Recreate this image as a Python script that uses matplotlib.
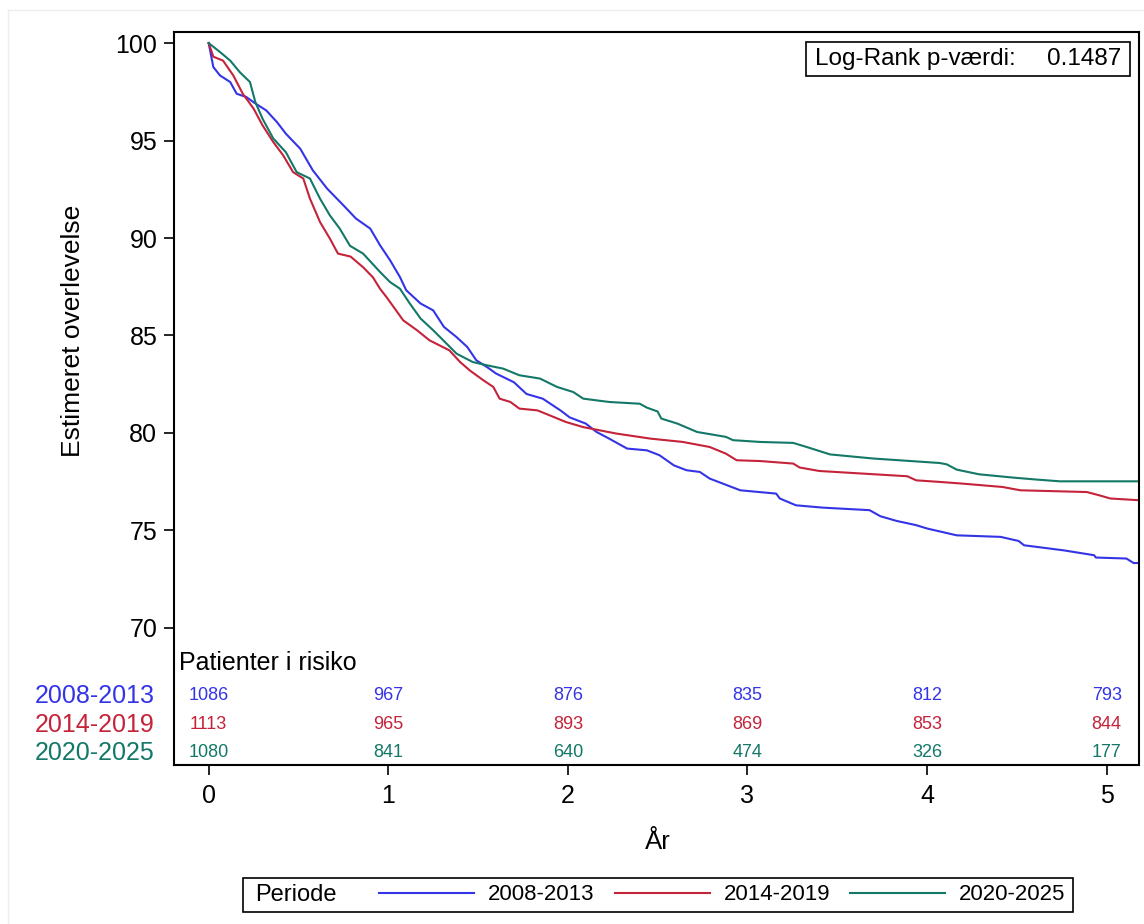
import matplotlib.pyplot as plt
import matplotlib.transforms as mtransforms
from matplotlib.lines import Line2D
from matplotlib.patches import Rectangle

plt.rcParams['font.family'] = ['Liberation Sans', 'DejaVu Sans']

periods = ['2008-2013', '2014-2019', '2020-2025']
colors = ['#3434e6', '#c4233a', '#137868']

# Kaplan-Meier kurver (aflæst)
t_0813 = [0, 0.026, 0.063, 0.12, 0.156, 0.21, 0.26, 0.32, 0.38, 0.43, 0.51, 0.58,
          0.66, 0.75, 0.82, 0.90, 0.954, 1.01, 1.065, 1.10, 1.18, 1.25, 1.31, 1.38,
          1.44, 1.49, 1.55, 1.60, 1.70, 1.77, 1.86, 1.96, 2.01, 2.10, 2.16, 2.23,
          2.33, 2.44, 2.51, 2.59, 2.66, 2.735, 2.79, 2.96, 3.16, 3.18, 3.27, 3.42,
          3.68, 3.74, 3.83, 3.94, 4.0, 4.165, 4.41, 4.51, 4.54, 4.76, 4.93, 4.94,
          5.11, 5.15, 5.18]
s_0813 = [100, 98.77, 98.34, 98.0, 97.4, 97.23, 96.9, 96.55, 95.95, 95.35, 94.58, 93.47,
          92.53, 91.68, 91.0, 90.48, 89.63, 88.86, 88.0, 87.32, 86.64, 86.29, 85.44, 84.92,
          84.41, 83.73, 83.38, 83.05, 82.6, 82.0, 81.76, 81.15, 80.8, 80.48, 80.05, 79.71,
          79.2, 79.11, 78.86, 78.34, 78.09, 78.0, 77.66, 77.06, 76.89, 76.64, 76.29, 76.17,
          76.04, 75.73, 75.49, 75.27, 75.1, 74.75, 74.67, 74.46, 74.24, 73.98, 73.73, 73.61,
          73.56, 73.33, 73.33]

t_1419 = [0, 0.026, 0.08, 0.137, 0.19, 0.25, 0.30, 0.36, 0.415, 0.47, 0.527, 0.564,
          0.62, 0.675, 0.72, 0.79, 0.86, 0.915, 0.954, 0.99, 1.03, 1.083, 1.16, 1.23,
          1.34, 1.40, 1.455, 1.53, 1.585, 1.62, 1.68, 1.73, 1.83, 1.90, 1.99, 2.086,
          2.27, 2.46, 2.64, 2.79, 2.88, 2.94, 3.07, 3.255, 3.29, 3.40, 3.89, 3.94,
          4.07, 4.2, 4.42, 4.52, 4.89, 4.96, 5.02, 5.18]
s_1419 = [100, 99.3, 99.1, 98.34, 97.4, 96.64, 95.78, 94.92, 94.24, 93.38, 93.05, 92.02,
          90.82, 89.97, 89.2, 89.05, 88.5, 87.98, 87.4, 86.97, 86.46, 85.78, 85.27, 84.75,
          84.24, 83.64, 83.2, 82.7, 82.36, 81.76, 81.59, 81.25, 81.16, 80.9, 80.56, 80.3,
          79.97, 79.71, 79.54, 79.28, 78.94, 78.6, 78.56, 78.43, 78.23, 78.05, 77.78, 77.57,
          77.49, 77.4, 77.23, 77.06, 76.97, 76.8, 76.64, 76.55]

t_2025 = [0, 0.063, 0.12, 0.174, 0.23, 0.26, 0.30, 0.36, 0.43, 0.49, 0.564, 0.62,
          0.675, 0.73, 0.787, 0.86, 0.954, 1.01, 1.065, 1.12, 1.18, 1.25, 1.325, 1.38,
          1.47, 1.55, 1.64, 1.73, 1.845, 1.94, 2.03, 2.086, 2.23, 2.40, 2.44, 2.50,
          2.52, 2.61, 2.72, 2.88, 2.92, 3.07, 3.255, 3.33, 3.46, 3.70, 4.07, 4.11,
          4.165, 4.29, 4.48, 4.61, 4.74, 5.18]
s_2025 = [100, 99.54, 99.1, 98.5, 98.0, 96.97, 96.12, 95.1, 94.4, 93.38, 93.05, 92.02,
          91.16, 90.48, 89.6, 89.2, 88.26, 87.74, 87.4, 86.64, 85.87, 85.27, 84.58, 84.07,
          83.64, 83.47, 83.3, 82.96, 82.79, 82.36, 82.1, 81.76, 81.59, 81.5, 81.3, 81.1,
          80.74, 80.48, 80.05, 79.8, 79.63, 79.54, 79.49, 79.28, 78.9, 78.69, 78.46, 78.39,
          78.12, 77.88, 77.71, 77.61, 77.52, 77.52]

# patienter i risiko
risk_years = [0, 1, 2, 3, 4, 5]
risk_0813 = [1086, 967, 876, 835, 812, 793]
risk_1419 = [1113, 965, 893, 869, 853, 844]
risk_2025 = [1080, 841, 640, 474, 326, 177]

fig = plt.figure(figsize=(11.44, 9.24), dpi=100)

# svag kant rundt om billedet
fig.add_artist(Line2D([0.007, 1], [0.989, 0.989], transform=fig.transFigure, color='#eeeeee', lw=1))
fig.add_artist(Line2D([0.007, 0.007], [0, 0.989], transform=fig.transFigure, color='#eeeeee', lw=1))

ax = fig.add_axes([0.1521, 0.1721, 0.8435, 0.7929])

curves = [(t_0813, s_0813), (t_1419, s_1419), (t_2025, s_2025)]
lines = []
for (t, s), c in zip(curves, colors):
    ln, = ax.plot(t, s, color=c, lw=1.5)
    lines.append(ln)

ax.set_xlim(-0.193, 5.18)
ax.set_ylim(62.97, 100.55)
ax.set_xticks(risk_years)
ax.set_yticks([70, 75, 80, 85, 90, 95, 100])
ax.tick_params(direction='out', length=7, width=1.2, labelsize=18)
ax.tick_params(axis='x', pad=7)
ax.tick_params(axis='y', pad=5)
for sp in ax.spines.values():
    sp.set_linewidth(1.5)

ax.set_xlabel('År', fontsize=18.5, va='center')
ax.xaxis.set_label_coords(0.5016, -0.105)
ax.set_ylabel('Estimeret overlevelse', fontsize=19, va='center')
ax.yaxis.set_label_coords(-0.1047, 0.592)

# risikotabel
trans = mtransforms.blended_transform_factory(ax.transData, ax.transAxes)
row_y = [0.0942, 0.055, 0.0168]
for risk, c, y, lab in zip([risk_0813, risk_1419, risk_2025], colors, row_y, periods):
    for x, n in zip(risk_years, risk):
        ax.text(x, y, str(n), transform=trans, ha='center', va='center', color=c, fontsize=13)
    ax.text(-0.0197, y, lab, transform=ax.transAxes, ha='right', va='center',
            color=c, fontsize=18, clip_on=False)
ax.text(0.005, 0.1396, 'Patienter i risiko', transform=ax.transAxes,
        ha='left', va='center', fontsize=18)

# log-rank boks
ax.add_patch(Rectangle((0.655, 0.9404), 0.3357, 0.0464, transform=ax.transAxes,
                       fill=False, ec='black', lw=1.2))
ax.text(0.6642, 0.9636, 'Log-Rank p-værdi:', transform=ax.transAxes,
        ha='left', va='center', fontsize=17.5)
ax.text(0.9813, 0.9636, '0.1487', transform=ax.transAxes,
        ha='right', va='center', fontsize=17.5)

# forklaring
fig.add_artist(Rectangle((0.2124, 0.013), 0.7256, 0.0368, transform=fig.transFigure,
                         fill=False, ec='black', lw=1.2))
fig.text(0.2229, 0.0314, 'Periode', ha='left', va='center', fontsize=17)
fig.legend(handles=lines, labels=periods, loc='center left',
           bbox_to_anchor=(379 / 1144, 0.0314), ncol=3, frameon=False,
           borderpad=0, borderaxespad=0, handlelength=4.28, handletextpad=0.63,
           columnspacing=0.9, fontsize=16)

fig.savefig('out.png', dpi=100)
